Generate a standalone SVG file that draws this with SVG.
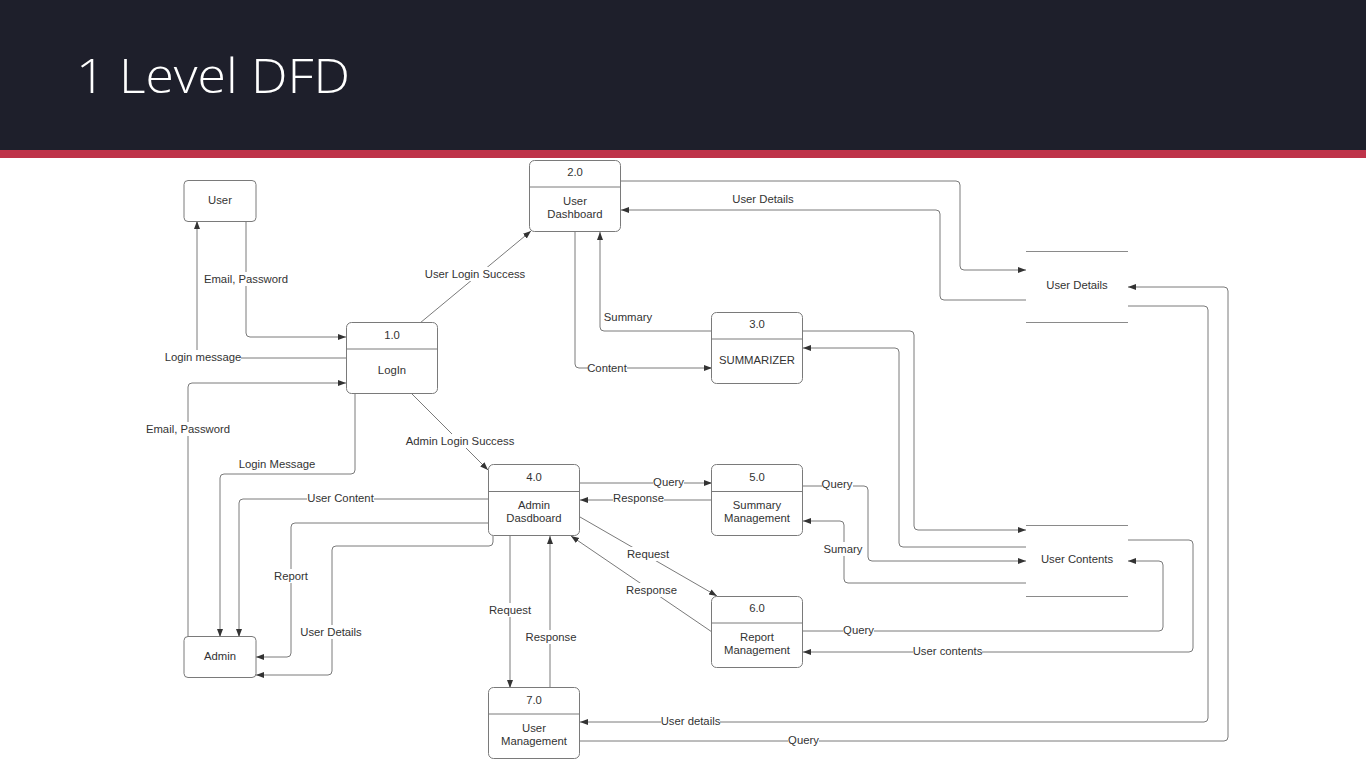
<svg xmlns="http://www.w3.org/2000/svg" width="1366" height="768" viewBox="0 0 1366 768">
  <style>
    .node rect.box { fill: #ffffff; stroke: #7a7a7a; stroke-width: 1; }
    .node line { stroke: #7a7a7a; stroke-width: 1; }
    .store line { stroke: #8a8a8a; stroke-width: 1; }
    text { font-family: "Liberation Sans", Arial, sans-serif; font-size: 11.3px; fill: #333333; text-anchor: middle; }
    .conn path { fill: none; stroke: #7a7a7a; stroke-width: 1; }
    .lbl rect { fill: #ffffff; }
    .title { font-family: "Open Sans", "Liberation Sans", sans-serif; font-weight: 300; font-size: 47px; fill: #ffffff; text-anchor: start; }
  </style>
  <defs>
    <marker id="arr" markerUnits="userSpaceOnUse" markerWidth="9" markerHeight="7" refX="8" refY="3" orient="auto">
      <path d="M0,0 L8,3 L0,6 z" fill="#333333"/>
    </marker>
  </defs>

  <!-- page background and header band -->
  <rect width="1366" height="768" fill="#ffffff"/>
  <rect width="1366" height="150" fill="#1e1f2b"/>
  <rect y="150" width="1366" height="8" fill="#be3349"/>
  <text class="title" x="76" y="93" textLength="274" lengthAdjust="spacingAndGlyphs">1 Level DFD</text>

  <!-- connectors -->
  <g id="connectors" class="conn" marker-end="url(#arr)">
    <path d="M246,221 V333 Q246,337 250,337 H346"/>
    <path d="M346,358 H201 Q197,358 197,354 V221"/>
    <path d="M188,637 V387 Q188,383 192,383 H346"/>
    <path d="M355,393 V470 Q355,474 351,474 H224 Q220,474 220,478 V637"/>
    <path d="M489,499 H243 Q239,499 239,503 V637"/>
    <path d="M489,523 H295 Q291,523 291,527 V653 Q291,657 287,657 H256"/>
    <path d="M493,536 V542 Q493,546 489,546 H336 Q332,546 332,550 V671 Q332,675 328,675 H256"/>
    <path d="M420,323 L531,231"/>
    <path d="M411,393 L488,470"/>
    <path d="M621,181 H956 Q960,181 960,185 V266 Q960,270 964,270 H1026"/>
    <path d="M1026,300 H944 Q940,300 940,296 V214 Q940,210 936,210 H621"/>
    <path d="M575,232 V364 Q575,368 579,368 H712"/>
    <path d="M712,331 H604 Q600,331 600,327 V232"/>
    <path d="M803,331 H910 Q914,331 914,335 V526 Q914,530 918,530 H1026"/>
    <path d="M1026,547 H903 Q899,547 899,543 V352 Q899,348 895,348 H803"/>
    <path d="M803,486 H864 Q868,486 868,490 V557 Q868,561 872,561 H1026"/>
    <path d="M1026,583 H848 Q844,583 844,579 V525 Q844,521 840,521 H803"/>
    <path d="M803,631 H1159 Q1163,631 1163,627 V565 Q1163,561 1159,561 H1128"/>
    <path d="M1128,540 H1189 Q1193,540 1193,544 V648 Q1193,652 1189,652 H803"/>
    <path d="M1128,306 H1204 Q1208,306 1208,310 V718 Q1208,722 1204,722 H580"/>
    <path d="M580,741 H1224 Q1228,741 1228,737 V291 Q1228,287 1224,287 H1128"/>
    <path d="M580,483 H712"/>
    <path d="M712,500 H580"/>
    <path d="M580,517 L717,596"/>
    <path d="M712,632 L571,536"/>
    <path d="M510,536 V688"/>
    <path d="M550,688 V536"/>
  </g>

  <!-- connector labels -->
  <g id="labels" class="lbl">
    <rect x="204" y="272" width="84" height="14"/><text x="246" y="279" dy="0.35em">Email, Password</text>
    <rect x="165" y="350" width="76" height="14"/><text x="203" y="357" dy="0.35em">Login message</text>
    <rect x="146" y="422" width="84" height="14"/><text x="188" y="429" dy="0.35em">Email, Password</text>
    <text x="277" y="464" dy="0.35em">Login Message</text>
    <rect x="307" y="491" width="67" height="14"/><text x="340.5" y="498" dy="0.35em">User Content</text>
    <rect x="274" y="569" width="34" height="14"/><text x="291" y="576" dy="0.35em">Report</text>
    <rect x="300" y="625" width="62" height="14"/><text x="331" y="632" dy="0.35em">User Details</text>
    <rect x="425" y="267" width="101" height="14"/><text x="475" y="274" dy="0.35em">User Login Success</text>
    <rect x="406" y="434" width="109" height="14"/><text x="460" y="441" dy="0.35em">Admin Login Success</text>
    <text x="763" y="199" dy="0.35em">User Details</text>
    <rect x="588" y="361" width="39" height="14"/><text x="607" y="368" dy="0.35em">Content</text>
    <text x="628" y="317" dy="0.35em">Summary</text>
    <rect x="822" y="477" width="31" height="14"/><text x="837" y="484" dy="0.35em">Query</text>
    <rect x="824" y="542" width="39" height="14"/><text x="843" y="549" dy="0.35em">Sumary</text>
    <rect x="843" y="623" width="31" height="14"/><text x="858.5" y="630" dy="0.35em">Query</text>
    <rect x="913" y="644" width="69" height="14"/><text x="947.5" y="651" dy="0.35em">User contents</text>
    <rect x="661" y="714" width="59" height="14"/><text x="690.5" y="721" dy="0.35em">User details</text>
    <rect x="788" y="733" width="31" height="14"/><text x="803.5" y="740" dy="0.35em">Query</text>
    <rect x="653" y="475" width="31" height="14"/><text x="668.5" y="482" dy="0.35em">Query</text>
    <rect x="613" y="491" width="51" height="14"/><text x="638.5" y="498" dy="0.35em">Response</text>
    <rect x="627" y="547" width="42" height="14"/><text x="648" y="554" dy="0.35em">Request</text>
    <rect x="626" y="583" width="51" height="14"/><text x="651.5" y="590" dy="0.35em">Response</text>
    <rect x="489" y="603" width="42" height="14"/><text x="510" y="610" dy="0.35em">Request</text>
    <rect x="525" y="630" width="51" height="14"/><text x="551" y="637" dy="0.35em">Response</text>
  </g>

  <!-- external entities -->
  <g id="user" class="node">
    <rect class="box" x="184" y="180.5" width="72" height="41" rx="4"/>
    <text x="220" y="200" dy="0.35em">User</text>
  </g>
  <g id="admin" class="node">
    <rect class="box" x="184" y="636.5" width="72" height="41" rx="4"/>
    <text x="220" y="656" dy="0.35em">Admin</text>
  </g>

  <!-- processes -->
  <g id="p1" class="node">
    <rect class="box" x="346.5" y="322.5" width="91" height="71" rx="5"/>
    <line x1="346.5" y1="349" x2="437.5" y2="349"/>
    <text x="392" y="335" dy="0.35em">1.0</text>
    <text x="392" y="370" dy="0.35em">LogIn</text>
  </g>
  <g id="p2" class="node">
    <rect class="box" x="529.5" y="160.5" width="91" height="71" rx="5"/>
    <line x1="529.5" y1="187" x2="620.5" y2="187"/>
    <text x="575" y="172" dy="0.35em">2.0</text>
    <text x="575" y="201" dy="0.35em">User</text>
    <text x="575" y="214" dy="0.35em">Dashboard</text>
  </g>
  <g id="p3" class="node">
    <rect class="box" x="711.5" y="312.5" width="91" height="71" rx="5"/>
    <line x1="711.5" y1="339" x2="802.5" y2="339"/>
    <text x="757" y="324" dy="0.35em">3.0</text>
    <text x="757" y="360" dy="0.35em">SUMMARIZER</text>
  </g>
  <g id="p4" class="node">
    <rect class="box" x="488.5" y="464.5" width="91" height="71" rx="5"/>
    <line x1="488.5" y1="491.5" x2="579.5" y2="491.5"/>
    <text x="534" y="477" dy="0.35em">4.0</text>
    <text x="534" y="505" dy="0.35em">Admin</text>
    <text x="534" y="518" dy="0.35em">Dasdboard</text>
  </g>
  <g id="p5" class="node">
    <rect class="box" x="711.5" y="464.5" width="91" height="71" rx="5"/>
    <line x1="711.5" y1="491.5" x2="802.5" y2="491.5"/>
    <text x="757" y="477" dy="0.35em">5.0</text>
    <text x="757" y="505" dy="0.35em">Summary</text>
    <text x="757" y="518" dy="0.35em">Management</text>
  </g>
  <g id="p6" class="node">
    <rect class="box" x="711.5" y="596.5" width="91" height="71" rx="5"/>
    <line x1="711.5" y1="623" x2="802.5" y2="623"/>
    <text x="757" y="608" dy="0.35em">6.0</text>
    <text x="757" y="637" dy="0.35em">Report</text>
    <text x="757" y="650" dy="0.35em">Management</text>
  </g>
  <g id="p7" class="node">
    <rect class="box" x="488.5" y="687.5" width="91" height="71" rx="5"/>
    <line x1="488.5" y1="714" x2="579.5" y2="714"/>
    <text x="534" y="700" dy="0.35em">7.0</text>
    <text x="534" y="728" dy="0.35em">User</text>
    <text x="534" y="741" dy="0.35em">Management</text>
  </g>

  <!-- data stores -->
  <g id="store-user-details" class="store">
    <line x1="1026" y1="251.5" x2="1128" y2="251.5"/>
    <line x1="1026" y1="322.5" x2="1128" y2="322.5"/>
    <text x="1077" y="285" dy="0.35em">User Details</text>
  </g>
  <g id="store-user-contents" class="store">
    <line x1="1026" y1="525.5" x2="1128" y2="525.5"/>
    <line x1="1026" y1="596.5" x2="1128" y2="596.5"/>
    <text x="1077" y="559" dy="0.35em">User Contents</text>
  </g>
</svg>
